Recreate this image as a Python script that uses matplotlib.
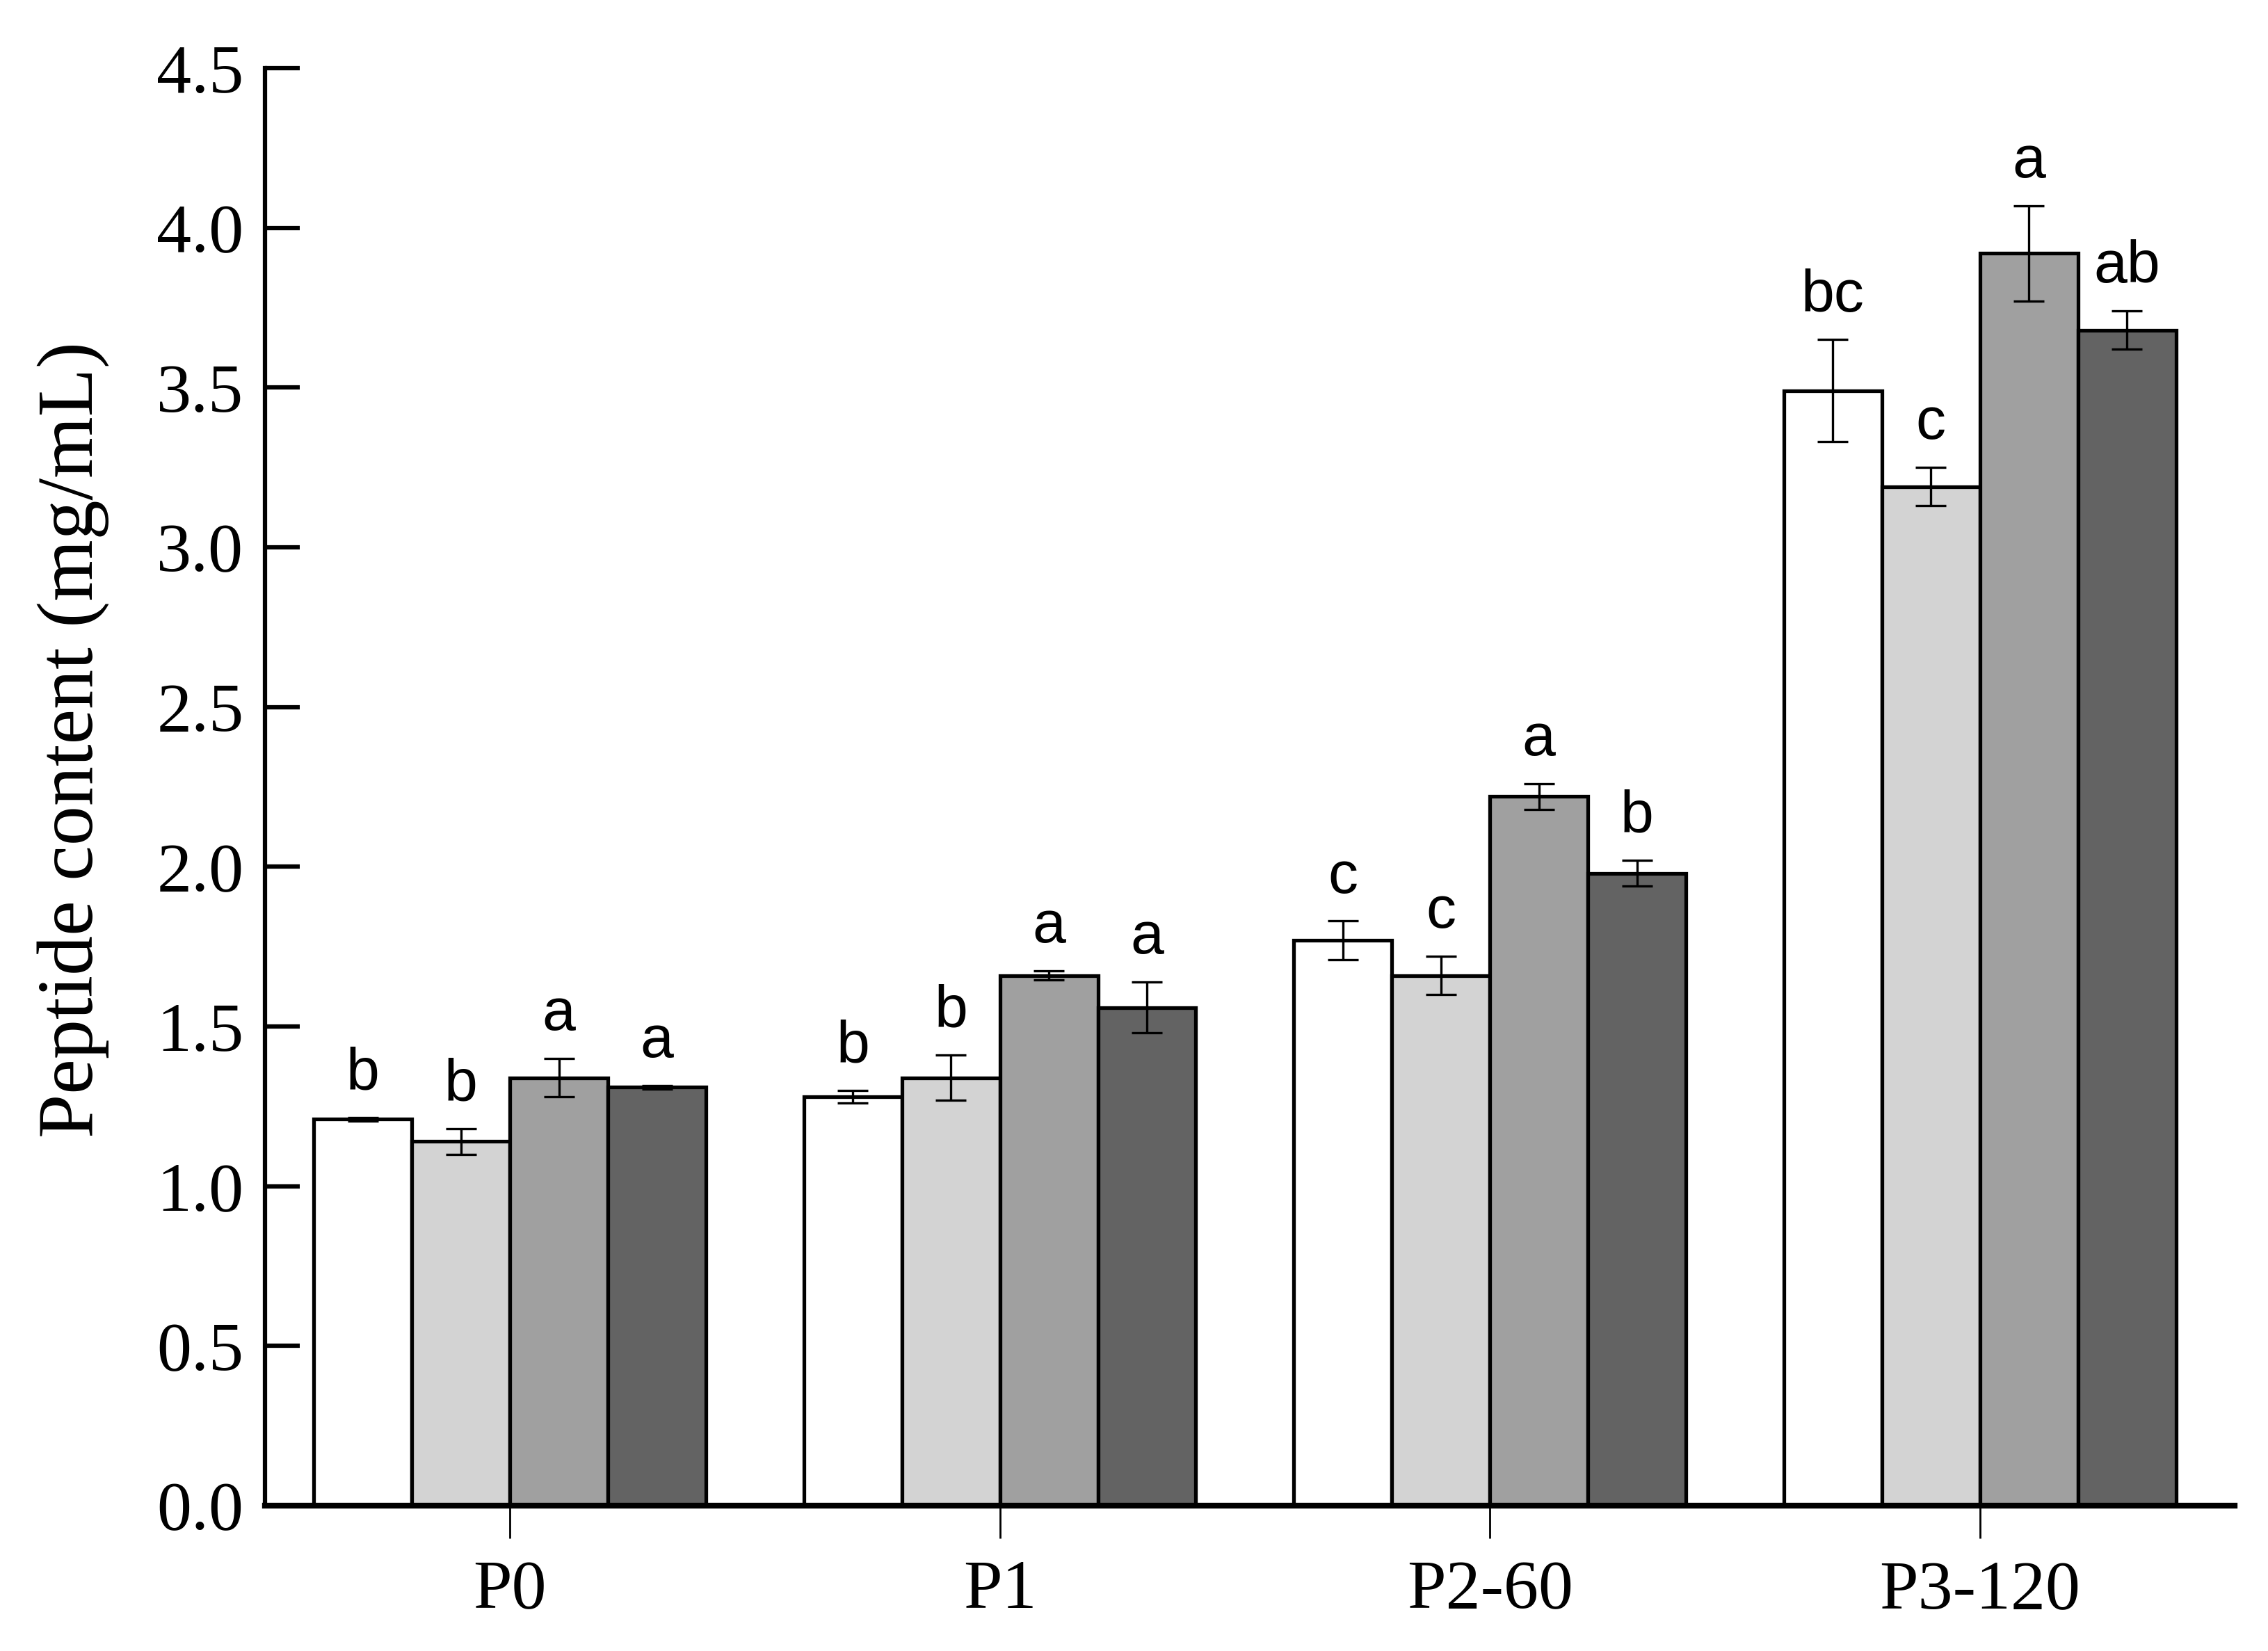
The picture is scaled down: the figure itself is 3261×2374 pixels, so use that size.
import numpy as np
import matplotlib
matplotlib.use('Agg')
from matplotlib import pyplot as plt

# 数据
groups = ['P0', 'P1', 'P2-60', 'P3-120']
s1 = [1.21, 1.28, 1.77, 3.49]
s2 = [1.14, 1.34, 1.66, 3.19]
s3 = [1.34, 1.66, 2.22, 3.92]
s4 = [1.31, 1.56, 1.98, 3.68]
e1 = [0.005, 0.02, 0.06, 0.16]
e2 = [0.04, 0.07, 0.06, 0.06]
e3 = [0.06, 0.015, 0.04, 0.15]
e4 = [0.005, 0.08, 0.04, 0.06]
l1 = ['b', 'b', 'c', 'bc']
l2 = ['b', 'b', 'c', 'c']
l3 = ['a', 'a', 'a', 'a']
l4 = ['a', 'a', 'b', 'ab']

colors = ['#ffffff', '#d3d3d3', '#a0a0a0', '#636363']
series = [s1, s2, s3, s4]
errs = [e1, e2, e3, e4]
letters = [l1, l2, l3, l4]

fig = plt.figure(figsize=(32.61, 23.74), dpi=100)
ax = fig.add_axes([0.1168, 0.088, 0.8685, 0.8707])

x = np.arange(len(groups))
w = 0.2
for i in range(4):
    pos = x + (i - 1.5) * w
    ax.bar(pos, series[i], w, color=colors[i], edgecolor='black', linewidth=3.8, zorder=2)
    ax.errorbar(pos, series[i], yerr=errs[i], fmt='none', ecolor='black',
                elinewidth=2.4, capsize=16, capthick=2.4, zorder=3)
    for p, v, e, t in zip(pos, series[i], errs[i], letters[i]):
        ax.text(p, v + e + 0.05, t, ha='center', va='bottom',
                fontsize=62, family='Liberation Sans')

ax.set_xlim(-0.5, 3.52)
ax.set_ylim(0, 4.5)
ax.set_yticks(np.arange(0, 4.51, 0.5))
ax.set_yticklabels(['%.1f' % v for v in np.arange(0, 4.51, 0.5)])
ax.set_xticks(x)
ax.set_xticklabels(groups)

ax.spines['top'].set_visible(False)
ax.spines['right'].set_visible(False)
ax.spines['left'].set_linewidth(4.5)
ax.spines['bottom'].set_linewidth(6)
ax.tick_params(axis='y', direction='in', length=36, width=4.5, pad=22,
               labelsize=72, labelfontfamily='Liberation Serif')
ax.tick_params(axis='x', direction='out', length=34, width=2, pad=22,
               labelsize=72, labelfontfamily='Liberation Serif')
ax.set_ylabel('Peptide content (mg/mL)', fontsize=82, family='Liberation Serif')
ax.yaxis.set_label_coords(-0.079, 0.533)

fig.savefig('out.png', dpi=100)
